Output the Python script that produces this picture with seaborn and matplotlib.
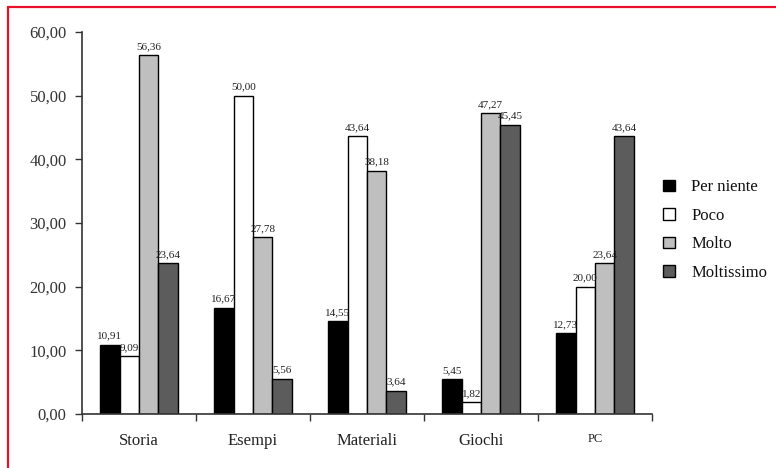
import matplotlib
matplotlib.use("Agg")
import matplotlib.pyplot as plt
from matplotlib.lines import Line2D
from matplotlib.patches import Patch
from matplotlib.ticker import FixedLocator, FuncFormatter
import numpy as np
import pandas as pd
import seaborn as sns

# Survey categories and answer levels
categories = ["Storia", "Esempi", "Materiali", "Giochi", "PC"]
levels = ["Per niente", "Poco", "Molto", "Moltissimo"]

# Percentages per level, one value per category
per_niente = [10.91, 16.67, 14.55, 5.45, 12.73]
poco = [9.09, 50.00, 43.64, 1.82, 20.00]
molto = [56.36, 27.78, 38.18, 47.27, 23.64]
moltissimo = [23.64, 5.56, 3.64, 45.45, 43.64]

y_ticks = [0, 10, 20, 30, 40, 50, 60]

series = [per_niente, poco, molto, moltissimo]
rows = []
for lvl, vals in zip(levels, series):
    for cat, v in zip(categories, vals):
        rows.append({"categoria": cat, "livello": lvl, "valore": v})
df = pd.DataFrame(rows)

sns.set_theme(style="white")
plt.rcParams["font.family"] = ["Liberation Serif", "DejaVu Serif"]

colors = ["#000000", "#ffffff", "#bfbfbf", "#5c5c5c"]

fig = plt.figure(figsize=(7.76, 4.68), dpi=100)
fig.patch.set_facecolor("white")
ax = fig.add_axes([82 / 776, 1 - 414 / 468, (652 - 82) / 776, (414 - 32) / 468])

sns.barplot(
    data=df, x="categoria", y="valore", hue="livello",
    order=categories, hue_order=levels, palette=colors,
    edgecolor="black", linewidth=1.0, width=0.68, ax=ax,
    errorbar=None, legend=False,
)

def comma(v):
    return f"{v:.2f}".replace(".", ",")

for cont, vals in zip(ax.containers, series):
    ax.bar_label(cont, labels=[comma(v) for v in vals], padding=3,
                 fontsize=8, color="#222222")

ax.set_xlim(-0.5, len(categories) - 0.5)
ax.set_ylim(0, 60)
ax.yaxis.set_major_locator(FixedLocator(y_ticks))
ax.yaxis.set_major_formatter(FuncFormatter(lambda v, p: comma(v)))
ax.set_xlabel("")
ax.set_ylabel("")

for side in ["top", "right"]:
    ax.spines[side].set_visible(False)
for side in ["left", "bottom"]:
    ax.spines[side].set_color("#333333")
    ax.spines[side].set_linewidth(1.2)

ax.tick_params(axis="y", which="major", left=True, length=5, width=1.0,
               color="#333333", labelsize=12, labelcolor="#333333", pad=6)
ax.tick_params(axis="x", which="major", bottom=False, labelsize=12,
               labelcolor="#222222", pad=8)
ax.xaxis.set_minor_locator(FixedLocator(np.arange(-0.5, len(categories), 1.0)))
ax.tick_params(axis="x", which="minor", bottom=True, length=5, width=1.0,
               color="#333333")
for lab in ax.get_xticklabels():
    if lab.get_text() == "PC":
        lab.set_fontsize(9)

handles = [Patch(facecolor=c, edgecolor="black", linewidth=1.0) for c in colors]
fig.legend(handles, levels, loc="center left", bbox_to_anchor=(648 / 776, 1 - 230 / 468),
           frameon=False, fontsize=12, handlelength=0.7, handleheight=0.7,
           handletextpad=1.0, labelspacing=0.75, labelcolor="#111111")

# Red frame on the top and left edges
fig.add_artist(Line2D([8 / 776, 1.0], [1 - 7 / 468, 1 - 7 / 468],
                      color="#e8102a", linewidth=1.6, transform=fig.transFigure))
fig.add_artist(Line2D([8 / 776, 8 / 776], [0.0, 1 - 7 / 468],
                      color="#e8102a", linewidth=1.6, transform=fig.transFigure))

fig.savefig("out.png", dpi=100, facecolor="white")
